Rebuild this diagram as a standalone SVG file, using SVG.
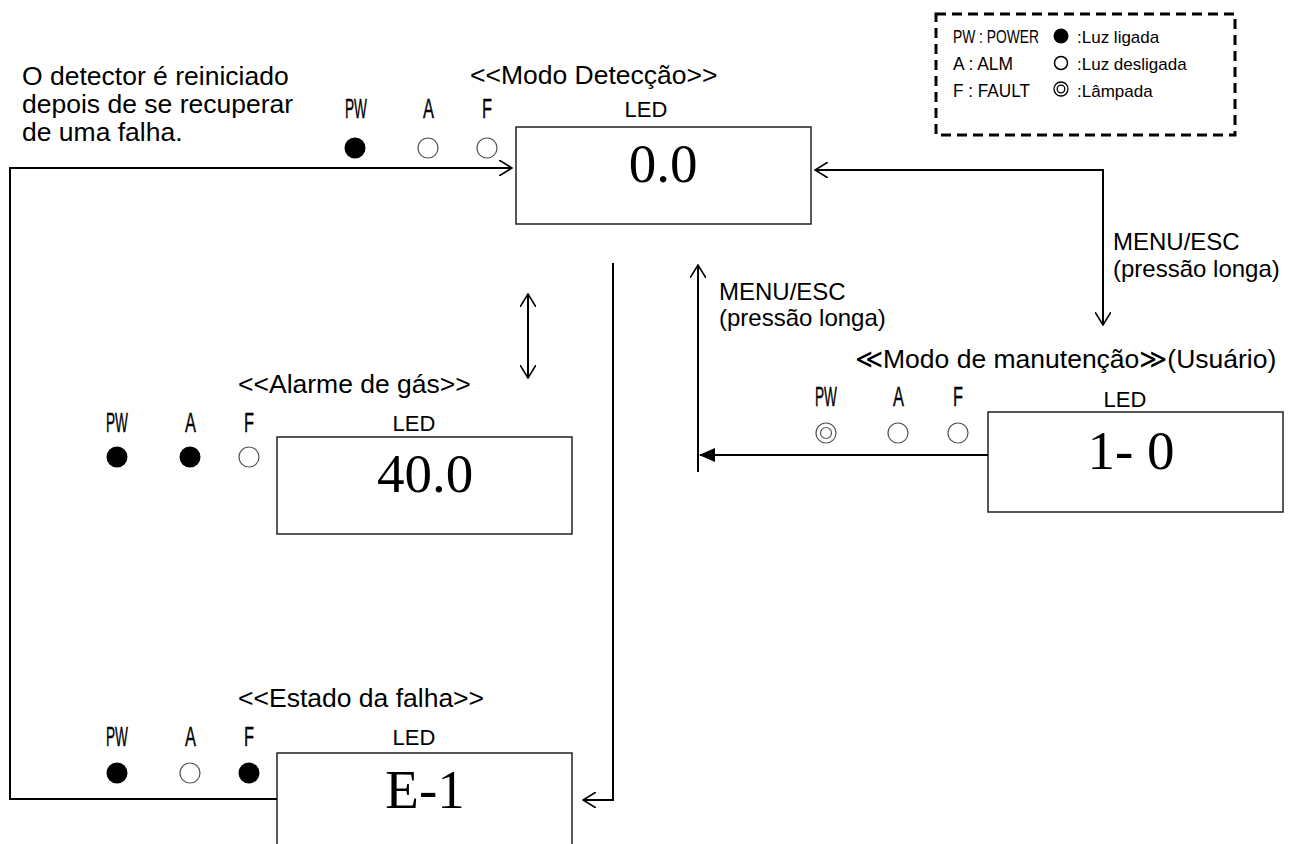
<svg xmlns="http://www.w3.org/2000/svg" width="1295" height="844" viewBox="0 0 1295 844">
<style>
.t{font-family:"Liberation Sans",Arial,sans-serif;fill:#000}
.big{font-size:26.5px}
.mid{font-size:24px}
.led{font-size:22px}
.leg{font-size:17px}
.nar{font-family:"Liberation Sans",Arial,sans-serif;font-size:28px;fill:#000;stroke:#000;stroke-width:0.4}
.narl{font-family:"Liberation Sans",Arial,sans-serif;font-size:19px;fill:#000}
.seg{font-family:"Liberation Serif","Times New Roman",serif;font-size:55px;fill:#000;text-anchor:middle}
.box{fill:#fff;stroke:#222;stroke-width:1.5}
.on{fill:#000}
.off{fill:#fff;stroke:#555;stroke-width:1.2}
.ln{fill:none;stroke:#000;stroke-width:2}
</style>
<defs>
<marker id="open" viewBox="0 0 14 16" refX="13" refY="8" markerWidth="14" markerHeight="16" markerUnits="userSpaceOnUse" orient="auto-start-reverse">
<path d="M0,0 L13,8 L0,16" fill="none" stroke="#000" stroke-width="1.6"/>
</marker>
<marker id="fill" viewBox="0 0 16 14" refX="15" refY="7" markerWidth="16" markerHeight="14" markerUnits="userSpaceOnUse" orient="auto">
<path d="M0,0 L16,7 L0,14 Z" fill="#000"/>
</marker>
</defs>

<g id="legend">
<rect x="936" y="14" width="299" height="121" fill="none" stroke="#000" stroke-width="3" stroke-dasharray="10,6"/>
<text class="narl" x="953" y="43" textLength="86" lengthAdjust="spacingAndGlyphs">PW : POWER</text>
<text class="narl" x="953" y="70" textLength="60" lengthAdjust="spacingAndGlyphs">A : ALM</text>
<text class="narl" x="953" y="97" textLength="77" lengthAdjust="spacingAndGlyphs">F : FAULT</text>
<circle cx="1061" cy="36" r="7.5" class="on"/>
<circle cx="1061" cy="63" r="6.5" fill="#fff" stroke="#000" stroke-width="1.5"/>
<circle cx="1061" cy="89" r="7" fill="#fff" stroke="#000" stroke-width="1.3"/>
<circle cx="1061" cy="89" r="3.8" fill="#fff" stroke="#000" stroke-width="1.3"/>
<text class="t leg" x="1077" y="43">:Luz ligada</text>
<text class="t leg" x="1077" y="70">:Luz desligada</text>
<text class="t leg" x="1077" y="97">:Lâmpada</text>
</g>

<g id="note">
<text class="t big" x="22" y="85">O detector é reiniciado</text>
<text class="t big" x="22" y="113">depois de se recuperar</text>
<text class="t big" x="22" y="141">de uma falha.</text>
</g>

<g id="detection">
<text class="t big" x="470" y="84">&lt;&lt;Modo Detecção&gt;&gt;</text>
<text class="nar" x="345" y="118" textLength="22" lengthAdjust="spacingAndGlyphs">PW</text>
<text class="nar" x="423" y="118" textLength="11" lengthAdjust="spacingAndGlyphs">A</text>
<text class="nar" x="482" y="118" textLength="10" lengthAdjust="spacingAndGlyphs">F</text>
<circle cx="355" cy="148" r="10.5" class="on"/>
<circle cx="428" cy="148" r="10" class="off"/>
<circle cx="487" cy="148" r="10" class="off"/>
<text class="t led" x="646" y="117" text-anchor="middle">LED</text>
<rect x="516" y="127" width="295" height="97" class="box"/>
<text class="seg" x="663" y="182">0.0</text>
</g>

<g id="gas-alarm">
<text class="t big" x="238" y="393">&lt;&lt;Alarme de gás&gt;&gt;</text>
<text class="nar" x="106" y="432" textLength="22" lengthAdjust="spacingAndGlyphs">PW</text>
<text class="nar" x="185" y="432" textLength="11" lengthAdjust="spacingAndGlyphs">A</text>
<text class="nar" x="244" y="432" textLength="10" lengthAdjust="spacingAndGlyphs">F</text>
<circle cx="117" cy="457" r="10.5" class="on"/>
<circle cx="190" cy="457" r="10.5" class="on"/>
<circle cx="249" cy="457" r="10" class="off"/>
<text class="t led" x="414" y="431" text-anchor="middle">LED</text>
<rect x="277" y="437" width="295" height="97" class="box"/>
<text class="seg" x="425" y="492">40.0</text>
</g>

<g id="fault-state">
<text class="t big" x="238" y="707">&lt;&lt;Estado da falha&gt;&gt;</text>
<text class="nar" x="106" y="746" textLength="22" lengthAdjust="spacingAndGlyphs">PW</text>
<text class="nar" x="185" y="746" textLength="11" lengthAdjust="spacingAndGlyphs">A</text>
<text class="nar" x="244" y="746" textLength="10" lengthAdjust="spacingAndGlyphs">F</text>
<circle cx="117" cy="773" r="10.5" class="on"/>
<circle cx="190" cy="773" r="10" class="off"/>
<circle cx="249" cy="773" r="10.5" class="on"/>
<text class="t led" x="414" y="745" text-anchor="middle">LED</text>
<rect x="277" y="753" width="295" height="110" class="box"/>
<text class="seg" x="425" y="808">E-1</text>
</g>

<g id="maintenance">
<text class="t big" x="855" y="368">≪Modo de manutenção≫(Usuário)</text>
<text class="nar" x="815" y="406" textLength="22" lengthAdjust="spacingAndGlyphs">PW</text>
<text class="nar" x="893" y="406" textLength="11" lengthAdjust="spacingAndGlyphs">A</text>
<text class="nar" x="953" y="406" textLength="10" lengthAdjust="spacingAndGlyphs">F</text>
<circle cx="826" cy="433" r="10" class="off"/>
<circle cx="826" cy="433" r="5.5" class="off"/>
<circle cx="898" cy="433" r="10" class="off"/>
<circle cx="958" cy="433" r="10" class="off"/>
<text class="t led" x="1125" y="407" text-anchor="middle">LED</text>
<rect x="988" y="412" width="295" height="100" class="box"/>
<text class="seg" x="1131" y="469">1- 0</text>
</g>

<g id="connectors">
<polyline class="ln" points="277,799 10,799 10,168 512,168" marker-end="url(#open)"/>
<polyline class="ln" points="815,170 1103,170 1103,325" marker-start="url(#open)" marker-end="url(#open)"/>
<line class="ln" x1="988" y1="455" x2="700" y2="455" marker-end="url(#fill)"/>
<line class="ln" x1="698" y1="472" x2="698" y2="265" marker-end="url(#open)"/>
<line class="ln" x1="528" y1="294" x2="528" y2="378" marker-start="url(#open)" marker-end="url(#open)"/>
<polyline class="ln" points="613,263 613,800 583,800" marker-end="url(#open)"/>
<text class="t mid" x="1113" y="250">MENU/ESC</text>
<text class="t mid" x="1113" y="277">(pressão longa)</text>
<text class="t mid" x="719" y="300">MENU/ESC</text>
<text class="t mid" x="719" y="326">(pressão longa)</text>
</g>
</svg>
